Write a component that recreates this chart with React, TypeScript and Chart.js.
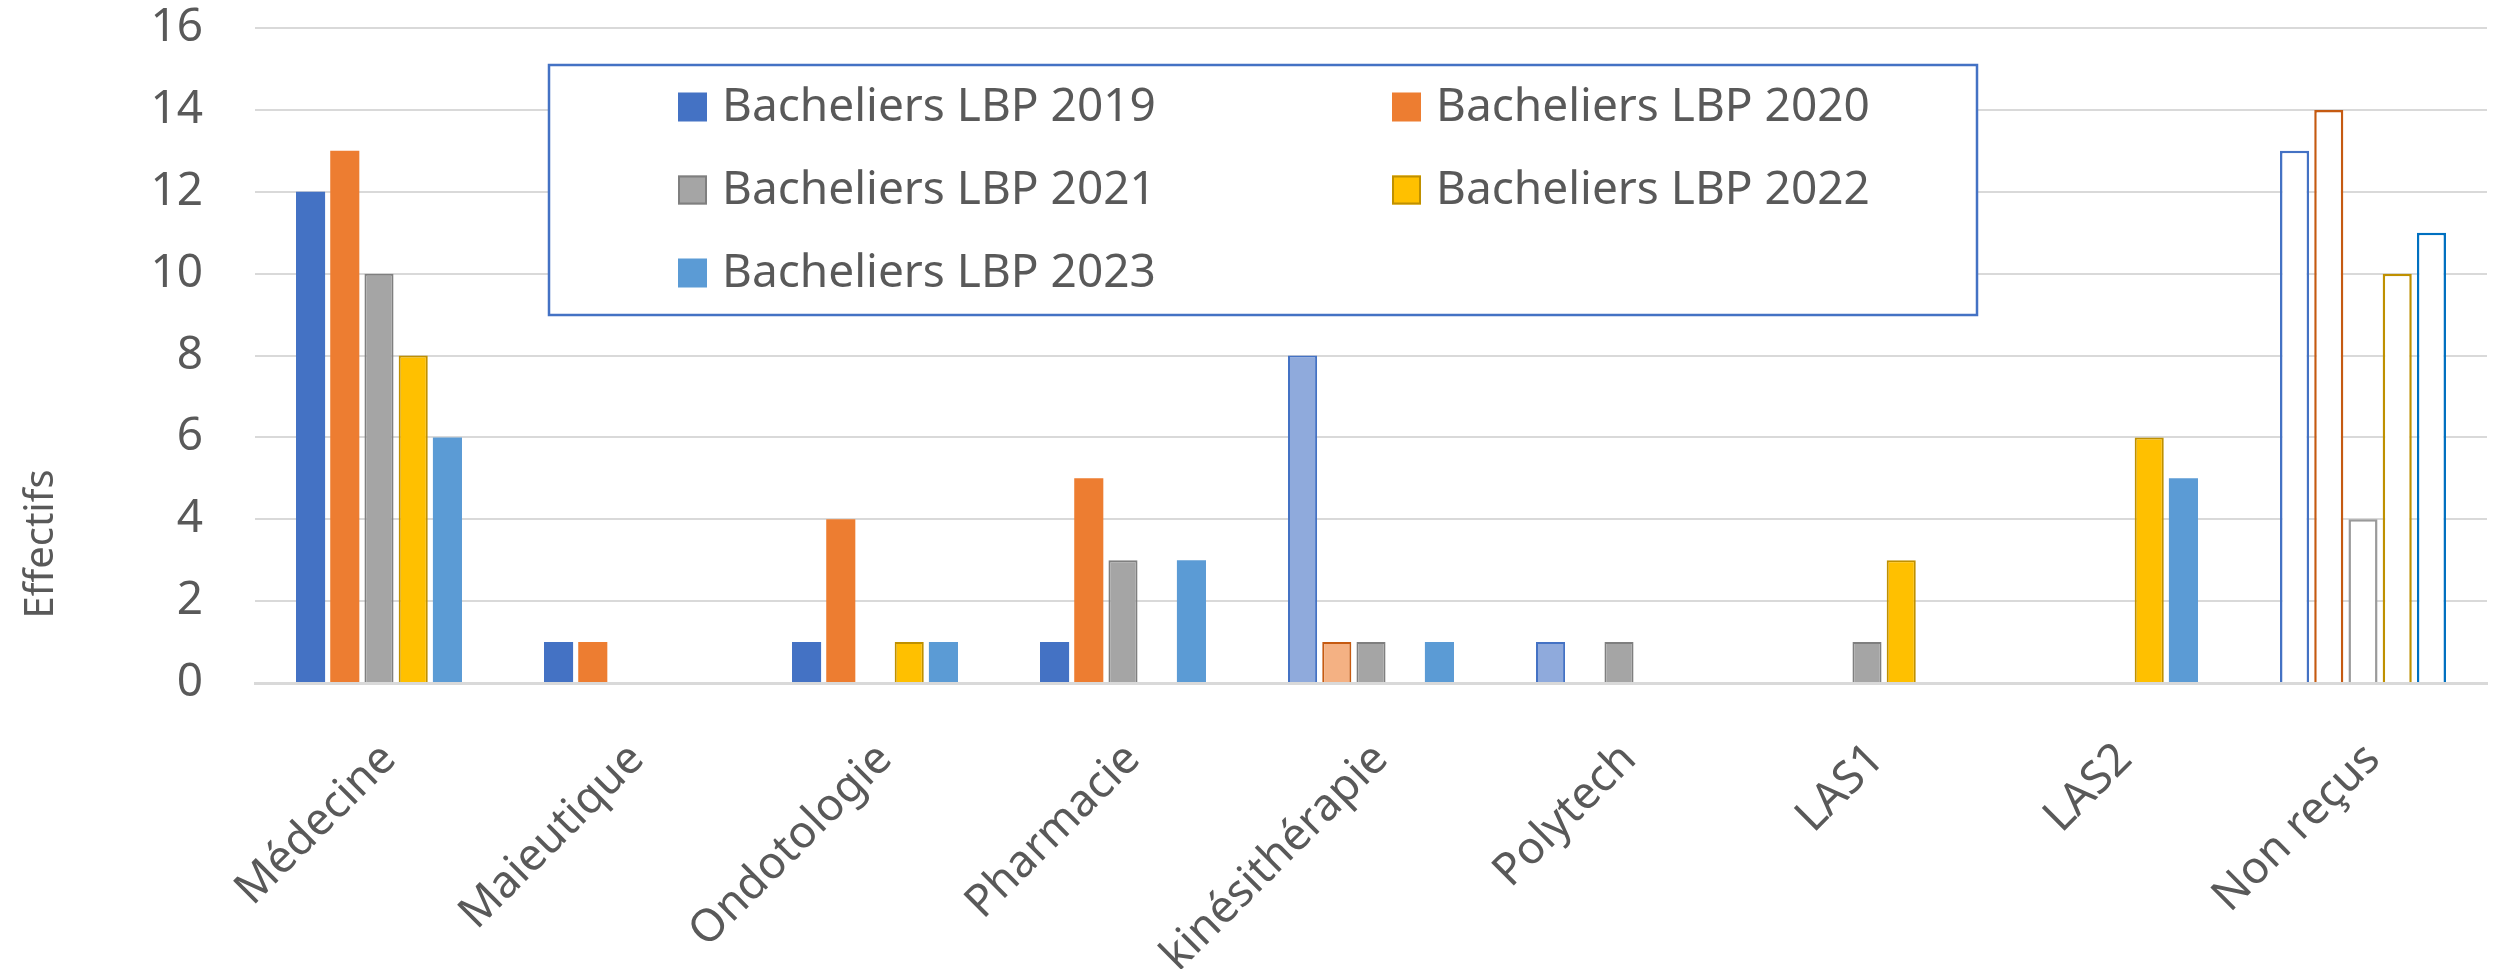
import React, { useEffect, useRef } from 'react';
import { Chart, registerables } from 'chart.js';

Chart.register(...registerables);

// ---------- DATA ----------
const categories = [
  'Médecine',
  'Maieutique',
  'Ondotologie',
  'Pharmacie',
  'kinésithérapie',
  'Polytech',
  'LAS1',
  'LAS2',
  'Non reçus',
];

const seriesLabels = [
  'Bacheliers LBP 2019',
  'Bacheliers LBP 2020',
  'Bacheliers LBP 2021',
  'Bacheliers LBP 2022',
  'Bacheliers LBP 2023',
];

const values2019 = [12, 1, 1, 1, 8, 1, null, null, 13];
const values2020 = [13, 1, 4, 5, 1, null, null, null, 14];
const values2021 = [10, null, null, 3, 1, 1, 1, null, 4];
const values2022 = [8, null, 1, null, null, null, 3, 6, 10];
const values2023 = [6, null, 1, 3, 1, null, null, 5, 11];

const yMin = 0;
const yMax = 16;
const yStep = 2;
const yTitle = 'Effectifs';

// ---------- STYLES ----------
const FONT = '"Noto Sans", "Open Sans", sans-serif';
const TEXT_COLOR = '#595959';
const GRID_COLOR = '#D9D9D9';

const seriesFill = ['#4472C4', '#ED7D31', '#A5A5A5', '#FFC000', '#5B9BD5'];
const seriesBorder = ['#4472C4', '#ED7D31', '#7F7F7F', '#BF9000', '#5B9BD5'];
const seriesBorderWidth = [0, 0, 2, 2, 0];
const seriesLightFill = ['#8FAADC', '#F4B183', '#A5A5A5', '#FFC000', '#5B9BD5'];
const seriesLightBorder = ['#4472C4', '#C55A11', '#7F7F7F', '#BF9000', '#5B9BD5'];
const seriesOutline = ['#4472C4', '#C55A11', '#9A9A9A', '#BF9000', '#0070C0'];
const lightCategories = [['kinésithérapie', 'Polytech'], ['kinésithérapie'], [], [], []];
const outlinedCategory = 'Non reçus';

const allValues = [values2019, values2020, values2021, values2022, values2023];

function buildDataset(i: number) {
  const bg = categories.map((c) =>
    c === outlinedCategory ? '#FFFFFF' : lightCategories[i].includes(c) ? seriesLightFill[i] : seriesFill[i]
  );
  const bc = categories.map((c) =>
    c === outlinedCategory ? seriesOutline[i] : lightCategories[i].includes(c) ? seriesLightBorder[i] : seriesBorder[i]
  );
  const bw = categories.map((c) =>
    c === outlinedCategory ? 2.5 : lightCategories[i].includes(c) ? 2 : seriesBorderWidth[i]
  );
  return {
    label: seriesLabels[i],
    data: allValues[i],
    backgroundColor: bg,
    borderColor: bc,
    borderWidth: bw,
    borderSkipped: 'bottom',
    categoryPercentage: 0.69,
    barPercentage: 0.85,
  };
}

// ---------- PLUGINS ----------
const boxLegendPlugin = {
  id: 'boxLegend',
  afterDraw(chart: any) {
    const ctx = chart.ctx;
    ctx.save();
    const bx = 549, by = 65, bw = 1428, bh = 250;
    ctx.fillStyle = '#FFFFFF';
    ctx.fillRect(bx, by, bw, bh);
    ctx.strokeStyle = '#4472C4';
    ctx.lineWidth = 2.5;
    ctx.strokeRect(bx, by, bw, bh);
    const colX = [678, 1392];
    const rowY0 = 107;
    const rowStep = 83;
    const sw = 29;
    chart.data.datasets.forEach((ds: any, i: number) => {
      const col = i % 2;
      const row = Math.floor(i / 2);
      const sx = colX[col];
      const cy = rowY0 + row * rowStep;
      ctx.fillStyle = seriesFill[i];
      ctx.fillRect(sx, cy - sw / 2, sw, sw);
      if (seriesBorderWidth[i] > 0) {
        ctx.strokeStyle = seriesBorder[i];
        ctx.lineWidth = 2;
        ctx.strokeRect(sx + 1, cy - sw / 2 + 1, sw - 2, sw - 2);
      }
      ctx.fillStyle = TEXT_COLOR;
      ctx.font = `46px ${FONT}`;
      ctx.textBaseline = 'middle';
      ctx.textAlign = 'left';
      ctx.fillText(ds.label, sx + 44, cy + 1);
    });
    ctx.restore();
  },
};

const yTitlePlugin = {
  id: 'yTitle',
  afterDraw(chart: any) {
    const ctx = chart.ctx;
    ctx.save();
    ctx.translate(42, 544);
    ctx.rotate(-Math.PI / 2);
    ctx.fillStyle = TEXT_COLOR;
    ctx.font = `40px ${FONT}`;
    ctx.textAlign = 'center';
    ctx.textBaseline = 'middle';
    ctx.fillText(yTitle, 0, 0);
    ctx.restore();
  },
};

export default function App() {
  const canvasRef = useRef<HTMLCanvasElement | null>(null);

  useEffect(() => {
    document.body.style.margin = '0';
    const canvas = canvasRef.current;
    if (!canvas) return;
    const chart = new Chart(canvas, {
      type: 'bar',
      data: {
        labels: categories,
        datasets: seriesLabels.map((_, i) => buildDataset(i)) as any,
      },
      options: {
        responsive: false,
        animation: false,
        devicePixelRatio: 1,
        layout: { padding: { top: 28, right: 16, left: 0, bottom: 0 } },
        plugins: {
          legend: { display: false },
          tooltip: { enabled: false },
        },
        scales: {
          x: {
            grid: { display: false, drawTicks: false },
            border: { display: true, color: GRID_COLOR, width: 3 },
            ticks: {
              color: TEXT_COLOR,
              font: { family: FONT, size: 45 },
              minRotation: 45,
              maxRotation: 45,
              autoSkip: false,
              padding: 50,
              labelOffset: 10,
            },
            afterFit: (scale: any) => {
              scale.height = 286;
            },
          },
          y: {
            min: yMin,
            max: yMax,
            ticks: {
              stepSize: yStep,
              color: TEXT_COLOR,
              font: { family: FONT, size: 46 },
              padding: 52,
            },
            grid: { color: GRID_COLOR, lineWidth: 2, drawTicks: false },
            border: { display: false },
            afterFit: (scale: any) => {
              scale.width = 255;
              scale.paddingTop = 0;
              scale.paddingBottom = 0;
            },
          },
        },
      },
      plugins: [boxLegendPlugin, yTitlePlugin],
    });
    return () => chart.destroy();
  }, []);

  return (
    <div style={{ width: 2503, height: 969, background: '#fff' }}>
      <canvas ref={canvasRef} width={2503} height={969} style={{ display: 'block' }} />
    </div>
  );
}
